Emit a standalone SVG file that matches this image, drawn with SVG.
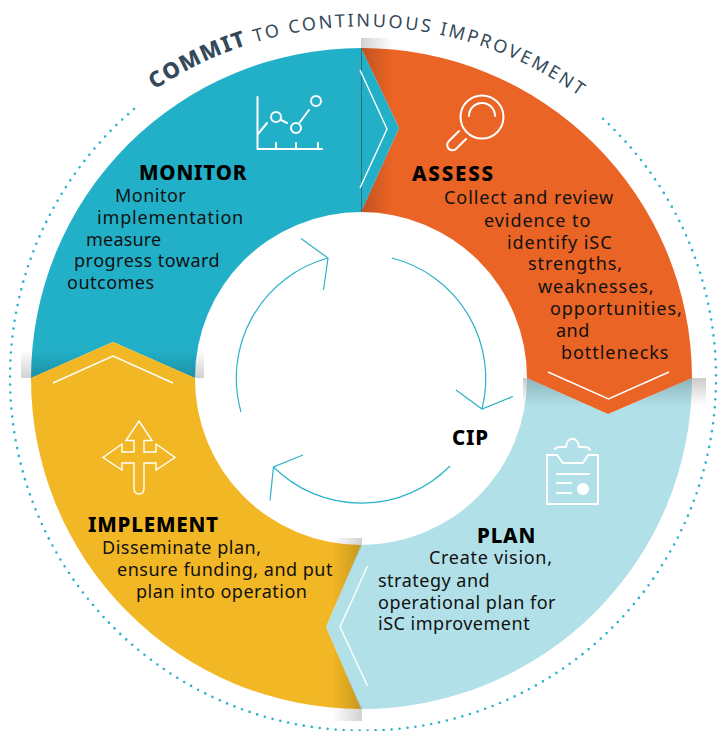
<svg xmlns="http://www.w3.org/2000/svg" width="726" height="731" viewBox="0 0 726 731">
<style>
text{font-family:"Noto Sans","Open Sans","Liberation Sans",sans-serif;fill:#111;}
.b{font-size:18px;letter-spacing:.5px;}
.a{letter-spacing:.95px;}
.h{font-size:20.500px;font-weight:800;letter-spacing:.8px;fill:#000;}
.w{fill:none;stroke:#fff;stroke-width:1.4;}
.i{fill:none;stroke:#fff;stroke-width:2;stroke-linecap:round;stroke-linejoin:round;}
.c{fill:none;stroke:#2cb2c9;stroke-width:1.2;}
.arc{font-size:18px;letter-spacing:2.45px;fill:#34495a;}
</style>
<defs>
<linearGradient id="gT" gradientUnits="userSpaceOnUse" x1="361" y1="0" x2="393" y2="0"><stop offset="0" stop-color="#000" stop-opacity=".18"/><stop offset="1" stop-color="#000" stop-opacity="0"/></linearGradient>
<linearGradient id="gR" gradientUnits="userSpaceOnUse" x1="0" y1="378" x2="0" y2="406"><stop offset="0" stop-color="#000" stop-opacity=".2"/><stop offset="1" stop-color="#000" stop-opacity="0"/></linearGradient>
<linearGradient id="gL" gradientUnits="userSpaceOnUse" x1="0" y1="378" x2="0" y2="350"><stop offset="0" stop-color="#000" stop-opacity=".18"/><stop offset="1" stop-color="#000" stop-opacity="0"/></linearGradient>
<linearGradient id="gB" gradientUnits="userSpaceOnUse" x1="362" y1="0" x2="332" y2="0"><stop offset="0" stop-color="#000" stop-opacity=".18"/><stop offset="1" stop-color="#000" stop-opacity="0"/></linearGradient>
<path id="ring" d="M153 91A373 373 0 0 1 600 112"/>
</defs>
<rect width="726" height="731" fill="#fff"/>
<path id="dots" d="M134 109A353 353 0 1 0 600 116" fill="none" stroke="#2cb2c9" stroke-width="2.6" stroke-linecap="round" stroke-dasharray="0 8"/>

<circle cx="361.500" cy="378.500" r="166" fill="#fff"/>
<g id="plan">
<path d="M692 378A330.500 330.500 0 0 1 361 709L326 627L361 545A166 166 0 0 0 527 378L608 414Z" fill="#b1e0e8"/>
<polygon points="523,378 706,378 706,406 523,406" fill="url(#gR)"/>
</g>
<g id="assess">
<path d="M361 48A330.500 330.500 0 0 1 692 378L608 414L527 378A166 166 0 0 0 361 212L399 128Z" fill="#ea6426"/>
<polygon points="361,38 393,38 393,212 361,212" fill="url(#gT)"/>
</g>
<g id="monitor">
<path d="M361 48A330.500 330.500 0 0 0 31 378L113 342L195 378A166 166 0 0 1 361 212L399 128Z" fill="#22b0c8"/>
<line x1="361.500" y1="48" x2="361.500" y2="212" stroke="#2f6f80" stroke-width="1"/>
<polygon points="21,378 204,378 204,350 21,350" fill="url(#gL)"/>
</g>
<g id="implement">
<path d="M31 378L113 342L195 378A166 166 0 0 0 361 545L326 627L361 709A330.500 330.500 0 0 1 31 378Z" fill="#f2b724"/>
<polygon points="332,538 362,538 362,545 326,627 362,709 362,721 332,721" fill="url(#gB)"/>
</g>

<g id="chevrons">
<polyline class="w" points="360,70 387,129 360,188"/>
<polyline class="w" points="548,372 608.500,399 669,372"/>
<polyline class="w" points="53,383 113,356 173,383"/>
<polyline class="w" points="367.500,566 340,627 367.500,686"/>
</g>

<g id="connectors">
<path class="c" d="M392 258A124.500 124.500 0 0 1 482 409"/><polyline class="c" points="456,390 482,409 513,396.500"/>
<path class="c" d="M450 466A124.500 124.500 0 0 1 273.500 467"/><polyline class="c" points="303,455 273.500,467 270,500.500"/>
<path class="c" d="M241 412A124.500 124.500 0 0 1 328 258"/><polyline class="c" points="301,238.500 328,258 323.500,290"/>
</g>

<g id="icon-chart" class="i">
<polyline points="257.500,97 257.500,149 322,149"/>
<path d="M276 143V149M296 143V149M318 143V149M258 134L267 123M281 120L287 123M300 122L309 110"/>
<circle cx="276" cy="117" r="5"/><circle cx="296" cy="128" r="5"/><circle cx="316" cy="101" r="5"/>
</g>
<g id="icon-search" class="i">
<circle cx="482" cy="117" r="21.500"/>
<path d="M469 116A13 13 0 0 1 495 116"/>
<path d="M459 131L449 141A4.500 4.500 0 0 0 456 149L466 139"/>
</g>
<g id="icon-clip" class="i">
<path d="M547 455H557L563 463H583L588 455H598V504H547Z"/>
<path d="M555 449Q556 447 560 447H566C567 436 578 436 579 447H585Q589 447 590 450"/>
<path d="M557 474H589M557 483H571M557 493H571"/>
<circle cx="583" cy="489" r="6" fill="#fff" stroke="none"/>
</g>
<g id="icon-arrows">
<path class="w" d="M139 421L152 440.500H144V452H156V444L175 457.500L156 470V463H144V488Q144 494 139 494Q134 494 134 488V463H122V470L103 457.500L122 444V452H134V440.500H126Z" stroke-width="1.600"/>
</g>

<g id="title">
<text class="arc"><textPath href="#ring" startOffset="2"><tspan font-weight="800" font-size="22" letter-spacing="1.500">COMMIT</tspan> TO CONTINUOUS IMPROVEMENT</textPath></text>
</g>

<g id="monitor-text">
<text class="h" x="139" y="180">MONITOR</text>
<text class="b" x="115" y="202">Monitor</text>
<text class="b" x="97" y="224" style="letter-spacing:.85px">implementation</text>
<text class="b" x="86" y="246" style="letter-spacing:.2px">measure</text>
<text class="b" x="74" y="267">progress toward</text>
<text class="b" x="67" y="289">outcomes</text>
</g>
<g id="assess-text">
<text class="h" x="412" y="181" style="letter-spacing:1.800px">ASSESS</text>
<text class="b a" x="444" y="204">Collect and review</text>
<text class="b a" x="484" y="227">evidence to</text>
<text class="b a" x="507" y="249">identify iSC</text>
<text class="b a" x="528" y="270">strengths,</text>
<text class="b a" x="538" y="293">weaknesses,</text>
<text class="b a" x="550" y="315">opportunities,</text>
<text class="b" x="556" y="337">and</text>
<text class="b a" x="561" y="359">bottlenecks</text>
</g>
<g id="plan-text">
<text class="h" x="477" y="543">PLAN</text>
<text class="b" x="429" y="564" style="letter-spacing:.7px">Create vision,</text>
<text class="b" x="378" y="587">strategy and</text>
<text class="b" x="378" y="609">operational plan for</text>
<text class="b" x="378" y="630">iSC improvement</text>
</g>
<g id="implement-text">
<text class="h" x="88" y="532">IMPLEMENT</text>
<text class="b" x="102" y="554">Disseminate plan,</text>
<text class="b" x="117" y="576">ensure funding, and put</text>
<text class="b" x="136" y="598">plan into operation</text>
</g>
<g id="cip"><text class="h" x="452" y="445">CIP</text></g>
</svg>
